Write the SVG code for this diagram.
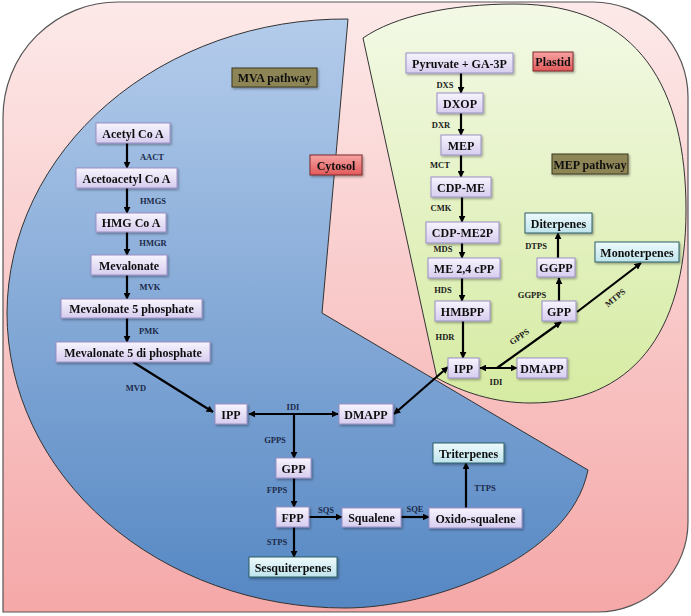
<svg xmlns="http://www.w3.org/2000/svg" width="691" height="616" viewBox="0 0 691 616">
<style>
.t{font-family:"Liberation Serif","Times New Roman",serif;font-weight:bold;font-size:12px;fill:#111;text-anchor:middle}
.e{font-family:"Liberation Serif","Times New Roman",serif;font-weight:bold;font-size:8.5px;text-anchor:middle}
.ec{fill:#1b2a4a}
.ep{fill:#1a1a1a}
.n{fill:url(#gNode);stroke:#9a90c6;stroke-width:1}
.c{fill:url(#gCyan);stroke:#2f5f68;stroke-width:1}
.r{fill:url(#gRed);stroke:#7a2a2a;stroke-width:1}
.o{fill:#8d8555;stroke:#3d3a1f;stroke-width:1}
.a{stroke:#000;stroke-width:2.2;fill:none;marker-end:url(#ah)}
.d{stroke:#000;stroke-width:2.2;fill:none;marker-end:url(#ah);marker-start:url(#ah)}
.sh{filter:url(#ds)}
</style>
<defs>
<linearGradient id="gPink" x1="0" y1="0" x2="0" y2="1">
<stop offset="0" stop-color="#fde9e9"/><stop offset="1" stop-color="#f5a8a8"/>
</linearGradient>
<linearGradient id="gBlue" x1="0" y1="0" x2="0" y2="1">
<stop offset="0" stop-color="#b4cceb"/><stop offset="1" stop-color="#5587c3"/>
</linearGradient>
<linearGradient id="gGreen" x1="0" y1="0" x2="0" y2="1">
<stop offset="0" stop-color="#f3f9e6"/><stop offset="1" stop-color="#d6eba2"/>
</linearGradient>
<linearGradient id="gNode" x1="0" y1="0" x2="0" y2="1">
<stop offset="0" stop-color="#f7f4fd"/><stop offset="1" stop-color="#d7cdef"/>
</linearGradient>
<linearGradient id="gCyan" x1="0" y1="0" x2="0" y2="1">
<stop offset="0" stop-color="#eefafc"/><stop offset="1" stop-color="#bfe4ec"/>
</linearGradient>
<linearGradient id="gRed" x1="0" y1="0" x2="0" y2="1">
<stop offset="0" stop-color="#f7a3a3"/><stop offset="1" stop-color="#e25a5a"/>
</linearGradient>
<filter id="ds" x="-20%" y="-30%" width="140%" height="170%">
<feDropShadow dx="1.2" dy="1.5" stdDeviation="0.8" flood-color="#000" flood-opacity="0.35"/>
</filter>
<marker id="ah" viewBox="0 0 10 10" refX="9" refY="5" markerWidth="7" markerHeight="7" markerUnits="userSpaceOnUse" orient="auto-start-reverse">
<path d="M0,0 L10,5 L0,10 z" fill="#000"/>
</marker>
</defs>

<g id="compartments">
<path id="cell" d="M3,117 A115 115 0 0 1 118,2 L593,2 A95 95 0 0 1 688,97 L688,522 A90 90 0 0 1 598,612 L3,612 Z" fill="url(#gPink)" stroke="#555" stroke-width="1.2"/>
<path id="cytosol-area" d="M348,19 A338 295 0 0 0 7,313 A338 295 0 0 0 345,608 C430,608 570,560 588,470 L322,313 Z" fill="url(#gBlue)" stroke="#333" stroke-width="1"/>
<path id="plastid-area" d="M363,38 C395,16 450,4 515,4 C640,4 686,90 686,210 C686,335 630,403 530,403 C495,403 462,392 437,378 Z" fill="url(#gGreen)" stroke="#333" stroke-width="1"/>
</g>

<g id="connectors">
<line class="a" x1="127" y1="143" x2="127" y2="168"/>
<line class="a" x1="127" y1="188" x2="127" y2="213"/>
<line class="a" x1="127" y1="232" x2="127" y2="255"/>
<line class="a" x1="127" y1="275" x2="127" y2="299"/>
<line class="a" x1="127" y1="318" x2="127" y2="342"/>
<line class="a" x1="133" y1="362" x2="213" y2="412"/>
<line class="d" x1="249" y1="414" x2="338" y2="414"/>
<line class="a" x1="294" y1="414" x2="294" y2="458"/>
<line class="a" x1="294" y1="478" x2="294" y2="507"/>
<line class="a" x1="309" y1="517" x2="342" y2="517"/>
<line class="a" x1="401" y1="517" x2="429" y2="517"/>
<line class="a" x1="466" y1="508" x2="466" y2="463"/>
<line class="a" x1="294" y1="527" x2="294" y2="557"/>
<line class="d" x1="394" y1="414" x2="448" y2="367"/>
<line class="a" x1="461" y1="73" x2="461" y2="93"/>
<line class="a" x1="461" y1="113" x2="461" y2="135"/>
<line class="a" x1="461" y1="155" x2="461" y2="177"/>
<line class="a" x1="462" y1="197" x2="462" y2="222"/>
<line class="a" x1="462" y1="243" x2="462" y2="258"/>
<line class="a" x1="462" y1="278" x2="462" y2="301"/>
<line class="a" x1="463" y1="321" x2="463" y2="358"/>
<line class="d" x1="480" y1="368" x2="517" y2="368"/>
<line class="a" x1="497" y1="368" x2="561" y2="322"/>
<line class="a" x1="559" y1="301" x2="559" y2="278"/>
<line class="a" x1="558" y1="258" x2="558" y2="233"/>
<line class="a" x1="577" y1="312" x2="641" y2="263"/>
</g>

<g id="enzyme-labels">
<text class="e ec" x="152" y="160">AACT</text>
<text class="e ec" x="153" y="204">HMGS</text>
<text class="e ec" x="153" y="246">HMGR</text>
<text class="e ec" x="150" y="290">MVK</text>
<text class="e ec" x="149" y="334">PMK</text>
<text class="e ec" x="136" y="391">MVD</text>
<text class="e ec" x="293" y="410">IDI</text>
<text class="e ec" x="275" y="443">GPPS</text>
<text class="e ec" x="277" y="493">FPPS</text>
<text class="e ec" x="326" y="513">SQS</text>
<text class="e ec" x="415" y="512">SQE</text>
<text class="e ec" x="485" y="491">TTPS</text>
<text class="e ec" x="277" y="545">STPS</text>
<text class="e ep" x="445" y="88">DXS</text>
<text class="e ep" x="441" y="128">DXR</text>
<text class="e ep" x="440" y="168">MCT</text>
<text class="e ep" x="441" y="211">CMK</text>
<text class="e ep" x="443" y="252">MDS</text>
<text class="e ep" x="443" y="293">HDS</text>
<text class="e ep" x="445" y="340">HDR</text>
<text class="e ep" x="496" y="385">IDI</text>
<text class="e ep" transform="translate(521,339) rotate(-35)">GPPS</text>
<text class="e ep" x="532" y="298">GGPPS</text>
<text class="e ep" x="536" y="249">DTPS</text>
<text class="e ep" transform="translate(617,300) rotate(-40)">MTPS</text>
</g>

<g id="n-mva" class="sh"><rect class="o" x="232" y="68" width="85" height="19"/><text class="t" x="274.5" y="82">MVA pathway</text></g>
<g id="n-cytosol" class="sh"><rect class="r" x="310" y="155" width="52" height="20"/><text class="t" x="336" y="169.5">Cytosol</text></g>
<g id="n-plastid" class="sh"><rect class="r" x="533" y="52" width="40" height="19"/><text class="t" x="553" y="66">Plastid</text></g>
<g id="n-mep" class="sh"><rect class="o" x="552" y="154" width="76" height="20"/><text class="t" x="590" y="168.5">MEP pathway</text></g>

<g id="n-acetylcoa" class="sh"><rect class="n" x="96" y="123" width="74" height="20"/><text class="t" x="133" y="137.5">Acetyl Co A</text></g>
<g id="n-acetoacetylcoa" class="sh"><rect class="n" x="76" y="168" width="101" height="20"/><text class="t" x="126.5" y="182.5">Acetoacetyl Co A</text></g>
<g id="n-hmgcoa" class="sh"><rect class="n" x="96" y="213" width="70" height="19"/><text class="t" x="131" y="227">HMG Co A</text></g>
<g id="n-mevalonate" class="sh"><rect class="n" x="91" y="255" width="76" height="20"/><text class="t" x="129" y="269.5">Mevalonate</text></g>
<g id="n-m5p" class="sh"><rect class="n" x="61" y="299" width="141" height="19"/><text class="t" x="131.5" y="313">Mevalonate 5 phosphate</text></g>
<g id="n-m5dp" class="sh"><rect class="n" x="56" y="342" width="154" height="20"/><text class="t" x="133" y="356.5">Mevalonate 5 di phosphate</text></g>
<g id="n-ipp-c" class="sh"><rect class="n" x="215" y="404" width="32" height="20"/><text class="t" x="231" y="418.5">IPP</text></g>
<g id="n-dmapp-c" class="sh"><rect class="n" x="339" y="404" width="54" height="20"/><text class="t" x="366" y="418.5">DMAPP</text></g>
<g id="n-gpp-c" class="sh"><rect class="n" x="276" y="458" width="35" height="20"/><text class="t" x="293.5" y="472.5">GPP</text></g>
<g id="n-fpp" class="sh"><rect class="n" x="276" y="507" width="33" height="20"/><text class="t" x="292.5" y="521.5">FPP</text></g>
<g id="n-squalene" class="sh"><rect class="n" x="342" y="508" width="59" height="19"/><text class="t" x="371.5" y="522">Squalene</text></g>
<g id="n-oxidosqualene" class="sh"><rect class="n" x="429" y="508" width="93" height="20"/><text class="t" x="475.5" y="522.5">Oxido-squalene</text></g>
<g id="n-triterpenes" class="sh"><rect class="c" x="433" y="443" width="71" height="20"/><text class="t" x="468.5" y="457.5">Triterpenes</text></g>
<g id="n-sesquiterpenes" class="sh"><rect class="c" x="249" y="557" width="88" height="20"/><text class="t" x="293" y="571.5">Sesquiterpenes</text></g>

<g id="n-pyruvate" class="sh"><rect class="n" x="406" y="53" width="107" height="20"/><text class="t" x="459.5" y="67.5">Pyruvate + GA-3P</text></g>
<g id="n-dxop" class="sh"><rect class="n" x="437" y="93" width="46" height="20"/><text class="t" x="460" y="107.5">DXOP</text></g>
<g id="n-mep2" class="sh"><rect class="n" x="441" y="135" width="40" height="20"/><text class="t" x="461" y="149.5">MEP</text></g>
<g id="n-cdpme" class="sh"><rect class="n" x="431" y="177" width="60" height="20"/><text class="t" x="461" y="191.5">CDP-ME</text></g>
<g id="n-cdpme2p" class="sh"><rect class="n" x="426" y="222" width="73" height="21"/><text class="t" x="462.5" y="237">CDP-ME2P</text></g>
<g id="n-mecpp" class="sh"><rect class="n" x="428" y="258" width="72" height="20"/><text class="t" x="464" y="272.5">ME 2,4 cPP</text></g>
<g id="n-hmbpp" class="sh"><rect class="n" x="435" y="301" width="55" height="20"/><text class="t" x="462.5" y="315.5">HMBPP</text></g>
<g id="n-ipp-p" class="sh"><rect class="n" x="448" y="358" width="31" height="20"/><text class="t" x="463.5" y="372.5">IPP</text></g>
<g id="n-dmapp-p" class="sh"><rect class="n" x="517" y="358" width="50" height="20"/><text class="t" x="542" y="372.5">DMAPP</text></g>
<g id="n-gpp-p" class="sh"><rect class="n" x="542" y="301" width="34" height="20"/><text class="t" x="559" y="315.5">GPP</text></g>
<g id="n-ggpp" class="sh"><rect class="n" x="537" y="258" width="38" height="19"/><text class="t" x="556" y="272">GGPP</text></g>
<g id="n-diterpenes" class="sh"><rect class="c" x="525" y="213" width="67" height="20"/><text class="t" x="558.5" y="227.5">Diterpenes</text></g>
<g id="n-monoterpenes" class="sh"><rect class="c" x="595" y="242" width="84" height="20"/><text class="t" x="637" y="256.5">Monoterpenes</text></g>
</svg>
